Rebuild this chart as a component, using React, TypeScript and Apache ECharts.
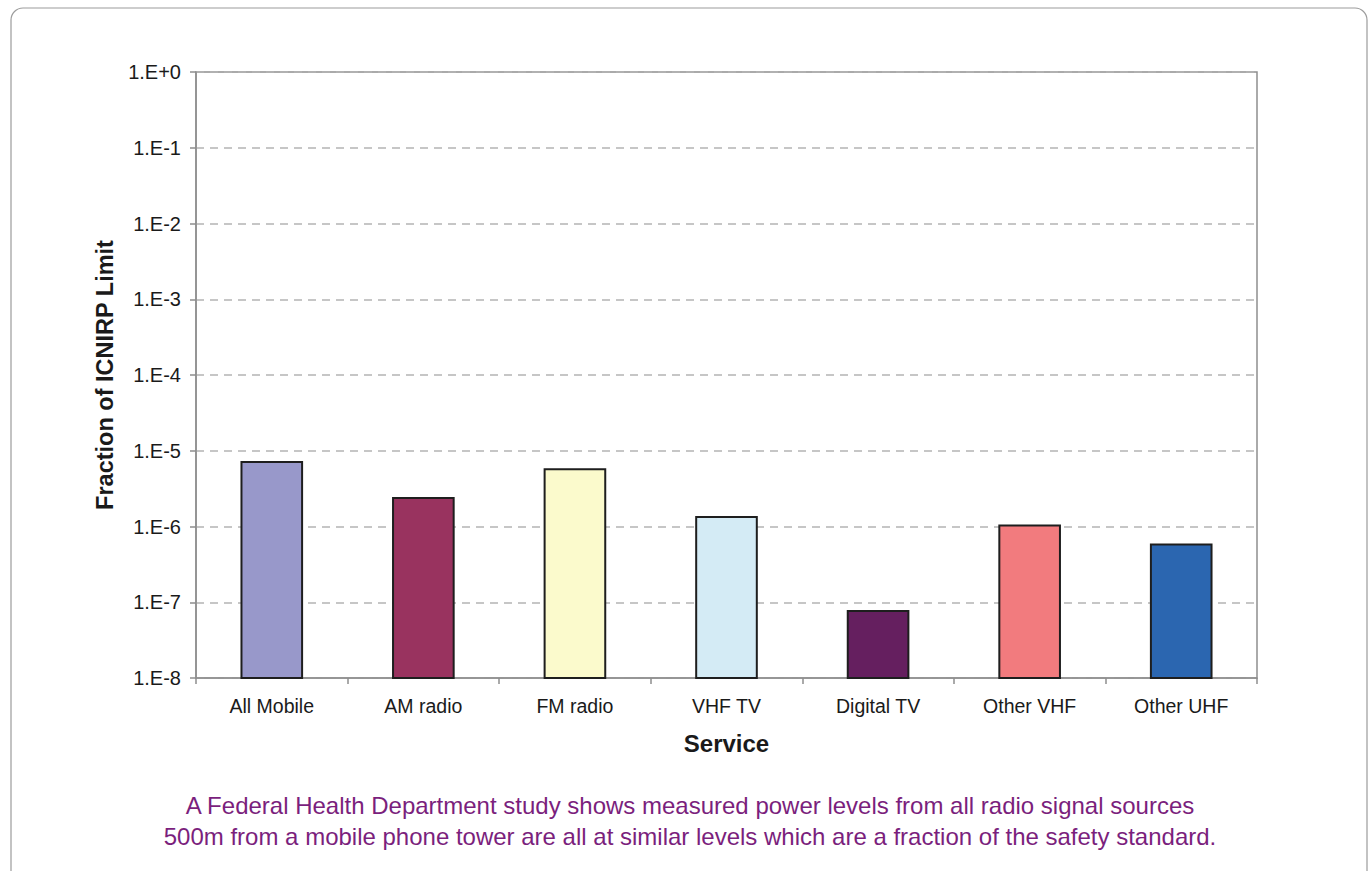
import React, { useEffect, useRef } from "react";
import * as echarts from "echarts";

const categories = ["All Mobile", "AM radio", "FM radio", "VHF TV", "Digital TV", "Other VHF", "Other UHF"];
const values = [7.1e-6, 2.37e-6, 5.7e-6, 1.33e-6, 7.65e-8, 1.03e-6, 5.8e-7];
const barColors = ["#9898ca", "#99335f", "#fbfacc", "#d4ebf5", "#651f5f", "#f27b7e", "#2b66b0"];
const yMin = 1e-8;
const yMax = 1;
const captionLines = [
  "A Federal Health Department study shows measured power levels from all radio signal sources",
  "500m from a mobile phone tower are all at similar levels which are a fraction of the safety standard.",
];

const FONT = "'Liberation Sans', Arial, Helvetica, sans-serif";

export default function App() {
  const ref = useRef<HTMLDivElement>(null);
  useEffect(() => {
    if (!ref.current) return;
    const chart = echarts.init(ref.current, undefined, { renderer: "svg" });
    chart.setOption({
      animation: false,
      backgroundColor: "#ffffff",
      textStyle: { fontFamily: FONT },
      grid: {
        left: 196,
        right: 113,
        top: 72,
        bottom: 193,
        show: true,
        borderColor: "#8e8e8e",
        borderWidth: 1.5,
        backgroundColor: "transparent",
      },
      xAxis: {
        type: "category",
        data: categories,
        boundaryGap: true,
        name: "Service",
        nameLocation: "middle",
        nameGap: 53,
        nameTextStyle: { fontFamily: FONT, fontSize: 24, fontWeight: "bold", color: "#1a1a1a" },
        axisLine: { lineStyle: { color: "#8e8e8e", width: 1.5 } },
        axisTick: { show: true, length: 6, lineStyle: { color: "#8e8e8e", width: 1.5 } },
        axisLabel: { fontFamily: FONT, fontSize: 19.5, color: "#1a1a1a", margin: 18 },
        splitLine: { show: false },
      },
      yAxis: {
        type: "log",
        logBase: 10,
        min: yMin,
        max: yMax,
        splitNumber: 8,
        name: "Fraction of ICNIRP Limit",
        nameLocation: "middle",
        nameGap: 77,
        nameRotate: 90,
        nameTextStyle: { fontFamily: FONT, fontSize: 23.5, fontWeight: "bold", color: "#1a1a1a" },
        axisLine: { show: true, lineStyle: { color: "#8e8e8e", width: 1.5 } },
        axisTick: { show: true, length: 6, lineStyle: { color: "#8e8e8e", width: 1.5 } },
        minorTick: { show: false },
        axisLabel: {
          fontFamily: FONT,
          fontSize: 20,
          color: "#1a1a1a",
          margin: 15,
          formatter: (v: number) => {
            const e = Math.round(Math.log10(v));
            return "1.E" + (e >= 0 ? "+" : "") + e;
          },
        },
        splitLine: { show: true, lineStyle: { color: "#b4b4b4", type: [8, 6], width: 1.5 } },
      },
      series: [
        {
          type: "custom",
          data: values.map((v, i) => [i, v]),
          encode: { x: 0, y: 1 },
          renderItem: (params: any, api: any) => {
            const idx = api.value(0);
            const v = api.value(1);
            const top = api.coord([idx, v]);
            const base = api.coord([idx, yMin]);
            const w = api.size([1, 0])[0] * 0.4;
            return {
              type: "rect",
              shape: { x: top[0] - w / 2, y: top[1], width: w, height: base[1] - top[1] },
              style: { fill: barColors[idx], stroke: "#1e1e1e", lineWidth: 2 },
            };
          },
        },
      ],
      graphic: [
        {
          type: "rect",
          shape: { x: 11, y: 8, width: 1356, height: 900, r: 12 },
          style: { fill: "none", stroke: "#9c9c9c", lineWidth: 1.2 },
          silent: true,
        },
        {
          type: "text",
          x: 690,
          y: 805,
          style: {
            text: captionLines[0],
            fontFamily: FONT,
            fontSize: 24,
            fill: "#7b1f7d",
            textAlign: "center",
            textVerticalAlign: "middle",
          },
        },
        {
          type: "text",
          x: 690,
          y: 836,
          style: {
            text: captionLines[1],
            fontFamily: FONT,
            fontSize: 24,
            fill: "#7b1f7d",
            textAlign: "center",
            textVerticalAlign: "middle",
          },
        },
      ],
    });
    return () => chart.dispose();
  }, []);
  return (
    <div
      ref={ref}
      style={{ position: "absolute", left: 0, top: 0, width: 1370, height: 871 }}
    />
  );
}
